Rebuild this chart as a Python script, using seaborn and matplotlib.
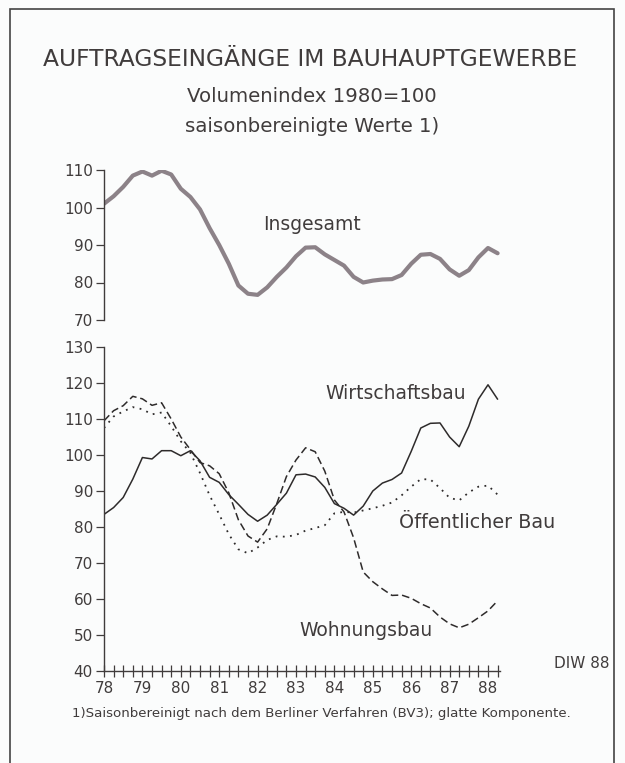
import numpy as np
import pandas as pd
import matplotlib
matplotlib.use("Agg")
import matplotlib.pyplot as plt
import seaborn as sns
from matplotlib.patches import Rectangle

# ---- data (quarterly, 1978 Q1 .. 1988 Q2) ----
quarters = [78 + i * 0.25 for i in range(42)]

insgesamt = [101.0, 103.0, 105.5, 108.5, 109.6, 108.5, 109.8, 108.8,
             105.0, 102.8, 99.5, 94.5, 90.0, 85.0, 79.2, 77.0,
             76.7, 78.7, 81.5, 84.0, 87.0, 89.3, 89.4, 87.5,
             86.0, 84.5, 81.5, 80.0, 80.5, 80.8, 80.9, 82.0,
             85.0, 87.4, 87.6, 86.3, 83.5, 81.8, 83.3, 86.7,
             89.2, 87.8]

wirtschaftsbau = [83.5, 85.4, 88.2, 93.3, 99.3, 98.9, 101.2, 101.2,
                  99.8, 101.2, 98.4, 93.8, 92.4, 89.0, 86.3, 83.5,
                  81.6, 83.3, 86.3, 89.4, 94.5, 94.7, 93.9, 91.0,
                  86.5, 85.2, 83.3, 85.8, 90.0, 92.2, 93.2, 95.0,
                  101.0, 107.5, 108.8, 108.9, 105.0, 102.3, 108.0, 115.5,
                  119.5, 115.5]

wohnungsbau = [109.5, 112.3, 113.7, 116.3, 115.6, 113.8, 114.5, 110.0,
               105.0, 101.5, 97.9, 97.0, 94.8, 89.5, 82.0, 77.5,
               75.8, 79.5, 86.5, 94.0, 98.6, 102.0, 100.9, 95.5,
               87.5, 84.2, 77.0, 67.5, 64.8, 62.8, 61.0, 61.1,
               60.2, 58.7, 57.5, 55.0, 53.1, 52.0, 53.0, 54.8,
               56.7, 59.5]

oeffentlich = [107.5, 110.7, 112.1, 113.3, 112.7, 111.3, 111.8, 108.0,
               103.8, 100.6, 95.0, 88.8, 83.5, 78.0, 73.8, 72.7,
               74.3, 76.4, 77.4, 77.3, 77.8, 79.0, 79.7, 80.5,
               83.8, 84.2, 84.0, 84.6, 85.2, 85.9, 86.8, 88.8,
               91.2, 93.3, 93.2, 90.8, 88.1, 87.4, 89.6, 91.2,
               91.5, 89.0]

year_ticks = list(range(78, 89))
year_labels = [str(y) for y in year_ticks]
top_yticks = [70, 80, 90, 100, 110]
bot_yticks = [40, 50, 60, 70, 80, 90, 100, 110, 120, 130]

df_top = pd.DataFrame({"Quartal": quarters, "Index": insgesamt})
df_bot = pd.DataFrame({
    "Quartal": quarters * 3,
    "Index": wirtschaftsbau + wohnungsbau + oeffentlich,
    "Reihe": (["Wirtschaftsbau"] * 42 + ["Wohnungsbau"] * 42
              + ["Öffentlicher Bau"] * 42),
})

# ---- style ----
sns.set_style("white")
plt.rcParams["font.family"] = ["DejaVu Sans"]
TXT = "#403c3c"

W, H = 625, 763
fig = plt.figure(figsize=(W / 100, H / 100), dpi=100)
fig.patch.set_facecolor("#fbfcfc")

def fx(px):
    return px / W

def fy(py):
    return 1 - py / H

x0, x1 = 78.0, 88.3
ax_left = fx(104)
ax_w = fx(104 + (x1 - x0) * 38.4) - ax_left

ax_top = fig.add_axes([ax_left, fy(320), ax_w, (320 - 170) / H])
ax_bot = fig.add_axes([ax_left, fy(671), ax_w, (671 - 347) / H])

for ax in (ax_top, ax_bot):
    ax.set_facecolor("none")

# top panel
sns.lineplot(data=df_top, x="Quartal", y="Index", ax=ax_top,
             color="#8c8288", linewidth=3.0)
ax_top.set_xlim(x0, x1)
ax_top.set_ylim(70, 110)
ax_top.set_yticks(top_yticks)
ax_top.set_xticks([])
for s in ("top", "right", "bottom"):
    ax_top.spines[s].set_visible(False)
ax_top.spines["left"].set_color(TXT)
ax_top.spines["left"].set_linewidth(1.0)

# bottom panel
styles = {
    "Wirtschaftsbau": dict(linestyle="-", linewidth=1.1),
    "Wohnungsbau": dict(linestyle=(0, (5, 2.5)), linewidth=1.1),
    "Öffentlicher Bau": dict(linestyle=(0, (1, 3)), linewidth=1.3),
}
for name, st in styles.items():
    sub = df_bot[df_bot["Reihe"] == name]
    sns.lineplot(data=sub, x="Quartal", y="Index", ax=ax_bot,
                 color="#2e2b2b", **st)
ax_bot.set_xlim(x0, x1)
ax_bot.set_ylim(40, 130)
ax_bot.set_yticks(bot_yticks)
ax_bot.set_xticks(year_ticks)
ax_bot.set_xticklabels(year_labels)
ax_bot.set_xticks(quarters, minor=True)
ax_bot.tick_params(axis="x", which="both", bottom=True, direction="inout",
                   length=8, width=0.9, color=TXT)
ax_bot.tick_params(axis="x", which="major", pad=3,
                   labelsize=11, labelcolor=TXT)
for s in ("top", "right"):
    ax_bot.spines[s].set_visible(False)
for s in ("left", "bottom"):
    ax_bot.spines[s].set_color(TXT)
    ax_bot.spines[s].set_linewidth(1.0)

for ax in (ax_top, ax_bot):
    ax.tick_params(axis="y", left=True, direction="out", length=6, width=0.9,
                   color=TXT, labelsize=11, labelcolor=TXT, pad=2)
    ax.set_xlabel("")
    ax.set_ylabel("")
    ax.grid(False)
    leg = ax.get_legend()
    if leg:
        leg.remove()

# ---- texts ----
fig.text(fx(310), fy(60), "AUFTRAGSEINGÄNGE IM BAUHAUPTGEWERBE",
         ha="center", va="center", fontsize=16.8, color=TXT)
fig.text(fx(312), fy(97), "Volumenindex 1980=100",
         ha="center", va="center", fontsize=14.2, color=TXT)
fig.text(fx(312), fy(127), "saisonbereinigte Werte 1)",
         ha="center", va="center", fontsize=14.2, color=TXT)

fig.text(fx(263), fy(224), "Insgesamt", ha="left", va="center",
         fontsize=13.5, color=TXT)
fig.text(fx(325), fy(393), "Wirtschaftsbau", ha="left", va="center",
         fontsize=13.5, color=TXT)
fig.text(fx(399), fy(522), "Öffentlicher Bau", ha="left", va="center",
         fontsize=13.8, color=TXT)
fig.text(fx(299), fy(630), "Wohnungsbau", ha="left", va="center",
         fontsize=13.5, color=TXT)
fig.text(fx(554), fy(664), "DIW 88", ha="left", va="center",
         fontsize=11, color=TXT)
fig.text(fx(72), fy(713),
         "1)Saisonbereinigt nach dem Berliner Verfahren (BV3); glatte Komponente.",
         ha="left", va="center", fontsize=9.6, color=TXT)

# frame
fig.patches.append(Rectangle((fx(10), -0.05), fx(614) - fx(10),
                             fy(9) + 0.05, transform=fig.transFigure,
                             fill=False, edgecolor="#444", linewidth=1.2,
                             clip_on=False))

fig.savefig("out.png", dpi=100, facecolor=fig.get_facecolor())
